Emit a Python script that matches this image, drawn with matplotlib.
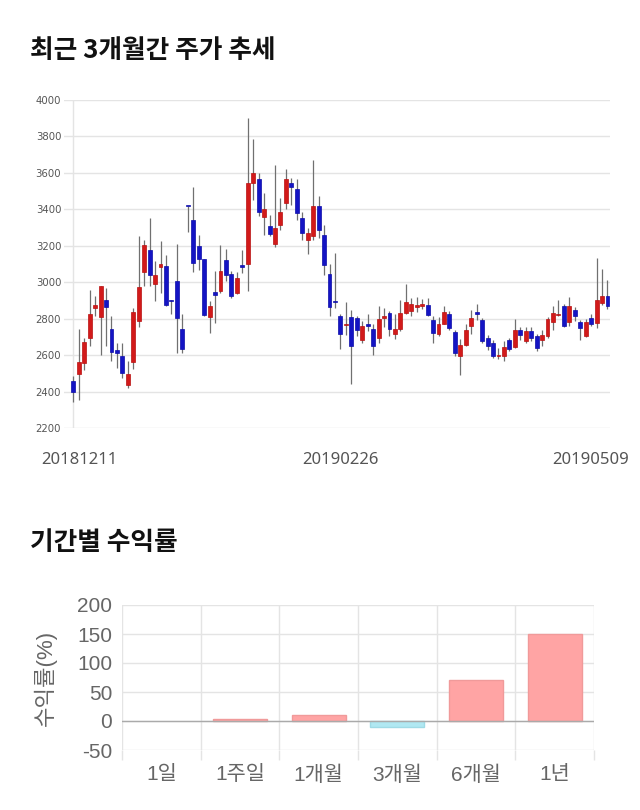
import matplotlib
matplotlib.use("Agg")
import matplotlib.pyplot as plt
import matplotlib.transforms as mtransforms
import numpy as np

plt.rcParams['font.family'] = ['Noto Sans CJK KR', 'DejaVu Sans']

# ---------------- data ----------------
dates_labels = ["20181211", "20190226", "20190509"]
date_label_idx = [0, 49, 98]

opens = [2460, 2497, 2555, 2694, 2859, 2808, 2904, 2744, 2630, 2594,
         2435, 2561, 2786, 3058, 3178, 2992, 3083, 3091, 2903, 3008,
         2744, 3421, 3343, 3197, 3127, 2808, 2948, 2950, 3124, 3045,
         2941, 3096, 3101, 3543, 3565, 3357, 3310, 3211, 3315, 3434,
         3543, 3511, 3352, 3233, 3251, 3421, 3259, 3045, 2895, 2813,
         2764, 2808, 2804, 2685, 2766, 2744, 2694, 2802, 2831, 2718,
         2744, 2831, 2841, 2862, 2872, 2877, 2795, 2718, 2773, 2828,
         2725, 2594, 2658, 2762, 2839, 2790, 2694, 2667, 2594, 2594,
         2682, 2645, 2740, 2676, 2733, 2703, 2682, 2707, 2782, 2822,
         2868, 2782, 2850, 2782, 2703, 2802, 2777, 2886, 2926]
highs = [2484, 2744, 2694, 2959, 2926, 2980, 2968, 2813, 2667, 2667,
         2567, 2859, 3251, 3233, 3355, 3114, 3224, 3147, 2903, 3211,
         2828, 3421, 3525, 3260, 3130, 2895, 3060, 3206, 3182, 3060,
         3054, 3178, 3900, 3785, 3598, 3489, 3370, 3644, 3461, 3620,
         3571, 3565, 3388, 3297, 3671, 3474, 3315, 3102, 3160, 2828,
         2893, 2850, 2817, 2786, 2823, 2768, 2868, 2859, 2841, 2823,
         2904, 2992, 2913, 2919, 2908, 2913, 2813, 2810, 2868, 2841,
         2740, 2689, 2768, 2846, 2882, 2804, 2712, 2685, 2640, 2676,
         2694, 2799, 2755, 2755, 2755, 2718, 2736, 2810, 2868, 2904,
         2880, 2919, 2864, 2795, 2799, 2823, 3133, 3071, 3010]
lows = [2342, 2353, 2521, 2649, 2813, 2599, 2649, 2567, 2530, 2475,
        2417, 2525, 2755, 2977, 2977, 2895, 2941, 2868, 2828, 2612,
        2609, 3273, 3054, 3069, 2813, 2722, 2777, 2941, 3005, 2913,
        2937, 3050, 2950, 3449, 3365, 3260, 3251, 3193, 3288, 3401,
        3425, 3339, 3233, 3156, 3229, 3242, 3041, 2813, 2859, 2634,
        2712, 2444, 2707, 2667, 2731, 2599, 2667, 2753, 2705, 2689,
        2731, 2828, 2813, 2835, 2853, 2813, 2667, 2707, 2768, 2740,
        2594, 2489, 2652, 2718, 2795, 2667, 2630, 2585, 2576, 2567,
        2621, 2640, 2682, 2667, 2676, 2621, 2652, 2694, 2736, 2813,
        2755, 2758, 2786, 2682, 2700, 2762, 2750, 2877, 2853]
closes = [2400, 2563, 2672, 2828, 2877, 2977, 2864, 2618, 2612, 2503,
          2497, 2837, 2974, 3204, 3041, 3040, 3100, 2877, 2899, 2802,
          2634, 3419, 3105, 3127, 2822, 2868, 2932, 3060, 3041, 2926,
          3023, 3083, 3543, 3602, 3383, 3401, 3266, 3297, 3383, 3565,
          3521, 3379, 3270, 3270, 3421, 3284, 3096, 2864, 2891, 2718,
          2771, 2652, 2736, 2762, 2762, 2649, 2799, 2813, 2744, 2744,
          2831, 2890, 2882, 2877, 2882, 2822, 2722, 2773, 2835, 2751,
          2612, 2658, 2740, 2804, 2824, 2676, 2652, 2594, 2599, 2643,
          2634, 2740, 2709, 2733, 2694, 2640, 2712, 2799, 2831, 2826,
          2758, 2868, 2817, 2747, 2782, 2768, 2904, 2926, 2868]

price_ticks = [2200, 2400, 2600, 2800, 3000, 3200, 3400, 3600, 3800, 4000]

periods = ["1일", "1주일", "1개월", "3개월", "6개월", "1년"]
returns = [0.0, 3.4, 9.7, -9.7, 71.0, 150.0]
return_ticks = [-50, 0, 50, 100, 150, 200]

# ---------------- figure ----------------
W, H = 640, 810
fig = plt.figure(figsize=(W / 100, H / 100), dpi=100)

def rect(l, t, r, b):
    return [l / W, 1 - b / H, (r - l) / W, (b - t) / H]

# titles
fig.text(30 / W, 1 - 50 / H, "최근 3개월간 주가 추세", fontsize=18.5, fontweight='bold',
         va='center', ha='left', color='#111111')
fig.text(30 / W, 1 - 543 / H, "기간별 수익률", fontsize=18.5, fontweight='bold',
         va='center', ha='left', color='#111111')

# ---------------- candlestick ----------------
ax = fig.add_axes(rect(64, 100, 610, 428))
x = np.arange(len(opens))
o = np.array(opens, float)
c = np.array(closes, float)
h = np.array(highs, float)
l = np.array(lows, float)
up = c >= o
colors = np.where(up, '#d21a1a', '#1414c4')
edges = np.where(up, '#b81010', '#0c0ca8')

ax.vlines(x, l, h, color='#707070', linewidth=0.9, zorder=2)
bottom = np.minimum(o, c)
height = np.maximum(np.abs(c - o), 6)
ax.bar(x, height, bottom=bottom, width=0.72, color=colors, edgecolor=edges,
       linewidth=0.5, zorder=3)

ax.set_xlim(-1.71, 98.46)
ax.set_ylim(2200, 4000)
ax.set_yticks(price_ticks)
ax.set_yticklabels([str(v) for v in price_ticks], fontsize=7.3, color='#555555',
                   family=['DejaVu Sans'])
ax.yaxis.grid(True, color='#e4e4e4', linewidth=1)
ax.set_axisbelow(True)
ax.axvline(0, color='#e4e4e4', linewidth=1, zorder=1)
for s in ax.spines.values():
    s.set_visible(False)
ax.tick_params(axis='y', length=0, pad=2)
ax.tick_params(axis='x', length=0, pad=17)
ax.set_xticks(date_label_idx)
ax.set_xticklabels(dates_labels, fontsize=12, color='#555555', family=['Noto Sans'])
offs = [6, 0, -17]
for lab, dx in zip(ax.get_xticklabels(), offs):
    lab.set_transform(lab.get_transform() +
                      mtransforms.ScaledTranslation(dx / 100, 0, fig.dpi_scale_trans))

# ---------------- returns bar chart ----------------
bx = fig.add_axes(rect(122, 605, 594, 750))
xp = np.arange(len(periods))
bar_colors = ['#ffa4a4' if v >= 0 else '#b0e8f2' for v in returns]
bar_edges = ['none' if v == 0 else ('#f09a9a' if v > 0 else '#9fdbe6') for v in returns]
bx.bar(xp, returns, width=0.69, color=bar_colors, edgecolor=bar_edges,
       linewidth=1, zorder=3)
bx.axhline(0, color='#aaaaaa', linewidth=1, zorder=4)
bx.set_xlim(-0.5, len(periods) - 0.5)
bx.set_ylim(-50, 200)
bx.set_yticks(return_ticks)
bx.set_yticklabels([str(v) for v in return_ticks], fontsize=15, color='#666666',
                   family=['Liberation Sans', 'DejaVu Sans'])
bx.set_xticks(xp)
bx.set_xticklabels(periods, fontsize=15, color='#666666',
                   family=['Liberation Sans', 'Noto Sans CJK KR'])
bx.set_xticks(np.arange(-0.5, len(periods)), minor=True)
bx.yaxis.grid(True, color='#e4e4e4', linewidth=1)
bx.xaxis.grid(True, which='minor', color='#e4e4e4', linewidth=1)
bx.set_axisbelow(True)
for s in bx.spines.values():
    s.set_visible(False)
bx.tick_params(axis='y', length=0, pad=7)
bx.tick_params(axis='x', which='major', length=0, pad=11)
bx.tick_params(axis='x', which='minor', length=7, color='#e4e4e4', width=1)
bx.set_ylabel("수익률(%)", fontsize=16, color='#666666',
              family=['Liberation Sans', 'Noto Sans CJK KR'])
bx.yaxis.set_label_coords(-0.138, 0.5)

fig.savefig("out.png", dpi=100)
